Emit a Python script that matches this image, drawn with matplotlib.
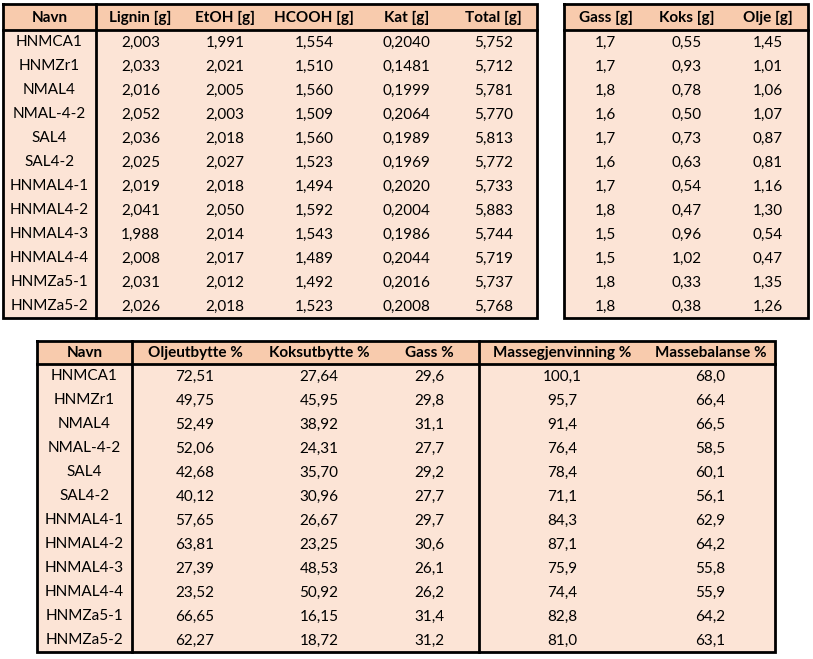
import matplotlib
matplotlib.use("Agg")
import matplotlib.pyplot as plt
from matplotlib.patches import Rectangle

plt.rcParams['font.family'] = ['Lato', 'DejaVu Sans']

# sample names (same for all three tables)
navn = ["HNMCA1", "HNMZr1", "NMAL4", "NMAL-4-2", "SAL4", "SAL4-2",
        "HNMAL4-1", "HNMAL4-2", "HNMAL4-3", "HNMAL4-4", "HNMZa5-1", "HNMZa5-2"]

# table 1: inputs
lignin = ["2,003", "2,033", "2,016", "2,052", "2,036", "2,025", "2,019", "2,041", "1,988", "2,008", "2,031", "2,026"]
etoh = ["1,991", "2,021", "2,005", "2,003", "2,018", "2,027", "2,018", "2,050", "2,014", "2,017", "2,012", "2,018"]
hcooh = ["1,554", "1,510", "1,560", "1,509", "1,560", "1,523", "1,494", "1,592", "1,543", "1,489", "1,492", "1,523"]
kat = ["0,2040", "0,1481", "0,1999", "0,2064", "0,1989", "0,1969", "0,2020", "0,2004", "0,1986", "0,2044", "0,2016", "0,2008"]
total = ["5,752", "5,712", "5,781", "5,770", "5,813", "5,772", "5,733", "5,883", "5,744", "5,719", "5,737", "5,768"]

# table 2: products
gass_g = ["1,7", "1,7", "1,8", "1,6", "1,7", "1,6", "1,7", "1,8", "1,5", "1,5", "1,8", "1,8"]
koks_g = ["0,55", "0,93", "0,78", "0,50", "0,73", "0,63", "0,54", "0,47", "0,96", "1,02", "0,33", "0,38"]
olje_g = ["1,45", "1,01", "1,06", "1,07", "0,87", "0,81", "1,16", "1,30", "0,54", "0,47", "1,35", "1,26"]

# table 3: yields
olje_pct = ["72,51", "49,75", "52,49", "52,06", "42,68", "40,12", "57,65", "63,81", "27,39", "23,52", "66,65", "62,27"]
koks_pct = ["27,64", "45,95", "38,92", "24,31", "35,70", "30,96", "26,67", "23,25", "48,53", "50,92", "16,15", "18,72"]
gass_pct = ["29,6", "29,8", "31,1", "27,7", "29,2", "27,7", "29,7", "30,6", "26,1", "26,2", "31,4", "31,2"]
massegj = ["100,1", "95,7", "91,4", "76,4", "78,4", "71,1", "84,3", "87,1", "75,9", "74,4", "82,8", "81,0"]
massebal = ["68,0", "66,4", "66,5", "58,5", "60,1", "56,1", "62,9", "64,2", "55,8", "55,9", "64,2", "63,1"]

HEAD = "#F8CBAD"
BODY = "#FCE4D6"
FS = 11


def draw_table(ax, left, top, col_edges, headers, columns, head_h, row_h, sep_after):
    right = col_edges[-1]
    n = len(columns[0])
    bottom = top + head_h + n * row_h
    ax.add_patch(Rectangle((left, top), right - left, head_h, facecolor=HEAD, edgecolor="none"))
    ax.add_patch(Rectangle((left, top + head_h), right - left, n * row_h, facecolor=BODY, edgecolor="none"))
    edges = [left] + col_edges
    for j, (h, col) in enumerate(zip(headers, columns)):
        cx = (edges[j] + edges[j + 1]) / 2
        ax.text(cx, top + head_h / 2 + 0.5, h, ha="center", va="center", fontsize=FS, fontweight="bold")
        for i, v in enumerate(col):
            ax.text(cx, top + head_h + (i + 0.5) * row_h + 0.5, v, ha="center", va="center", fontsize=FS)
    lw = 2.0
    ax.plot([left, right, right, left, left], [top, top, bottom, bottom, top], color="black", lw=lw,
            solid_joinstyle="miter")
    ax.plot([left, right], [top + head_h, top + head_h], color="black", lw=lw)
    for k in sep_after:
        ax.plot([edges[k], edges[k]], [top, bottom], color="black", lw=lw)


fig = plt.figure(figsize=(8.13, 6.59), dpi=100)
ax = fig.add_axes([0, 0, 1, 1])
ax.set_xlim(0, 813)
ax.set_ylim(659, 0)
ax.axis("off")

draw_table(ax, 3, 4, [96, 185, 265, 363, 450, 537],
           ["Navn", "Lignin [g]", "EtOH [g]", "HCOOH [g]", "Kat [g]", "Total [g]"],
           [navn, lignin, etoh, hcooh, kat, total], 26, 24, [1])

draw_table(ax, 564, 4, [647, 727, 808],
           ["Gass [g]", "Koks [g]", "Olje [g]"],
           [gass_g, koks_g, olje_g], 26, 24, [])

draw_table(ax, 37, 341, [132, 258, 380, 479, 646, 775],
           ["Navn", "Oljeutbytte %", "Koksutbytte %", "Gass %", "Massegjenvinning %", "Massebalanse %"],
           [navn, olje_pct, koks_pct, gass_pct, massegj, massebal], 23, 24, [1, 4])

fig.savefig("out.png", dpi=100)
